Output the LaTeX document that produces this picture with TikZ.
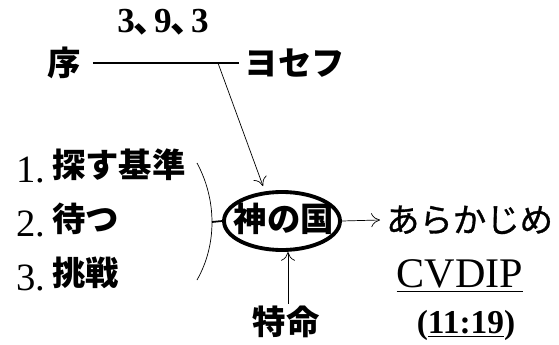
\documentclass[tikz,border=0pt]{standalone}
\usepackage{fontspec}
\setmainfont{Liberation Serif}
\newfontfamily\jp{Noto Sans CJK JP}
\newfontfamily\jpmed[FakeBold=1]{Noto Sans CJK JP}
\usetikzlibrary{shapes.geometric,arrows.meta}

\tikzset{
    jptext/.style={font=\jp\bfseries\fontsize{19}{21}\selectfont, inner sep=1pt},
    numtext/.style={font=\fontsize{22}{24}\selectfont, inner sep=0pt},
    ring/.style={ellipse, draw, line width=2.2pt, minimum width=116*0.02cm, minimum height=58*0.02cm, inner sep=0pt},
    tip/.style={-{To[length=5pt,width=8pt]}}
}
\newcommand{\tcomma}{\kern-0.05em{\jp 、}\kern-0.4em}

\begin{document}
\begin{tikzpicture}[x=0.02cm,y=-0.02cm]
        \useasboundingbox (0,0) rectangle (559,345);
        % Top line
        \node[font=\bfseries\fontsize{20}{22}\selectfont] (verse) at (163,22) {3\tcomma 9\tcomma 3};
        \node[jptext] (jo) at (64,63) {序};
        \node[jptext] (joseph) at (295,63) {ヨセフ};
        \draw[semithick] ([xshift=10*0.02cm]jo.east) coordinate (lineL) -- ([xshift=-4*0.02cm]joseph.west) coordinate (lineR);
        \coordinate (junc) at (218,63);
        \draw[tip] (junc) -- (263,186);

        % List
        \node[numtext, anchor=east] (n1) at (46,170) {1.};
        \node[jptext, anchor=west] (l1) at (50,165) {探す基準};
        \node[numtext, anchor=east] (n2) at (46,224) {2.};
        \node[jptext, anchor=west] (l2) at (50,219) {待つ};
        \node[numtext, anchor=east] (n3) at (46,278) {3.};
        \node[jptext, anchor=west] (l3) at (50,273) {挑戦};
        \draw (197,163) .. controls (217,200) and (217,245) .. (197,280);
        \coordinate (arcmid) at (212,222);

        % Center
        \node[ring] (kingdom) at (282,221) {};
        \node[jptext, font=\jp\bfseries\fontsize{19}{21}\selectfont] (kname) at (284,219) {神の国};
        \draw[line width=1pt] (arcmid) -- (kingdom.west);
        \node[font=\jpmed\fontsize{19}{21}\selectfont, inner sep=1pt, anchor=west] (advance) at (384,220) {あらかじめ};
        \draw[tip] (kingdom.east) -- ([xshift=-4*0.02cm]advance.west);
        \node[font=\fontsize{24}{26}\selectfont, inner sep=0pt] (cvdip) at (460,276) {\underline{CVDIP}};
        \node[font=\bfseries\fontsize{19}{21}\selectfont, inner sep=0pt] (ref) at (466,325) {(\underline{11:19})};
        \node[jptext] (mission) at (286,322) {特命};
        \draw[tip] ([xshift=2*0.02cm]mission.north) -- ([xshift=2*0.02cm]mission.north |- kingdom.south);
\end{tikzpicture}
\end{document}
